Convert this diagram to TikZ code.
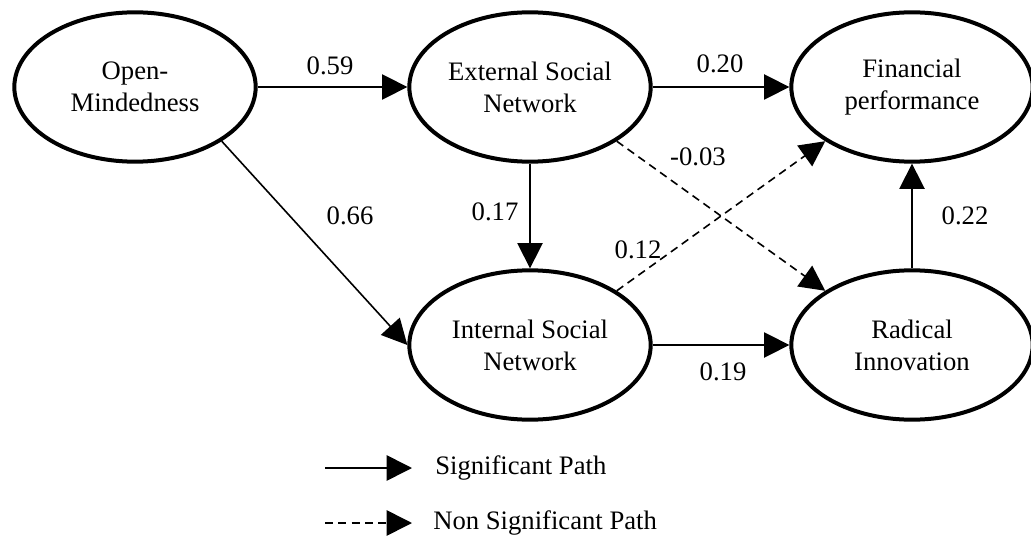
\documentclass[tikz,border=0pt]{standalone}
\usepackage{fontspec}
\setmainfont{Liberation Serif}
\usetikzlibrary{arrows.meta,shapes.geometric}
\begin{document}
\begin{tikzpicture}[x=0.75pt, y=0.75pt,
   every node/.style={font=\fontsize{20}{24}\selectfont},
   construct/.style={draw, ellipse, line width=3pt, minimum width=181pt,
      minimum height=112pt, inner sep=0pt, align=center},
   sigpath/.style={line width=1.2pt, -{Triangle[length=19pt,width=19pt]}},
   nonsigpath/.style={sigpath, dash pattern=on 6pt off 4pt}]
   \useasboundingbox (0,0) rectangle (1031,540);
   % constructs
   \node[construct] (om)  at (135,453) {Open-\\Mindedness};
   \node[construct] (esn) at (530,453) {External Social\\Network};
   \node[construct] (fp)  at (912,453) {Financial\\performance};
   \node[construct] (isn) at (530,195) {Internal Social\\Network};
   \node[construct] (ri)  at (912,195) {Radical\\Innovation};
   % paths
   \draw[sigpath] (om.east) -- (esn.west);
   \draw[sigpath] (esn.east) -- (fp.west);
   \draw[sigpath] (om.south east) -- (isn.west);
   \draw[sigpath] (esn.south) -- (isn.north);
   \draw[sigpath] (isn.east) -- (ri.west);
   \draw[sigpath] (ri.north) -- (fp.south);
   \draw[nonsigpath] (esn.south east) -- (ri.north west);
   \draw[nonsigpath] (isn.north east) -- (fp.south west);
   % coefficients
   \node (c59) at (330,474) {0.59};
   \node (c20) at (720,476) {0.20};
   \node (c03) at (698,383) {-0.03};
   \node (c17) at (495,328) {0.17};
   \node (c66) at (350,324) {0.66};
   \node (c12) at (638,290) {0.12};
   \node (c22) at (965,324) {0.22};
   \node (c19) at (723,168) {0.19};
   % legend
   \coordinate (sigA) at (325,72);
   \coordinate (sigB) at (412,72);
   \coordinate (nsA) at (325,17);
   \coordinate (nsB) at (412,17);
   \draw[sigpath] (sigA) -- (sigB);
   \draw[nonsigpath] (nsA) -- (nsB);
   \node[anchor=west, inner sep=0pt] (sigtxt) at (435,72) {Significant Path};
   \node[anchor=west, inner sep=0pt] (nstxt) at (433,17) {Non Significant Path};
\end{tikzpicture}
\end{document}
